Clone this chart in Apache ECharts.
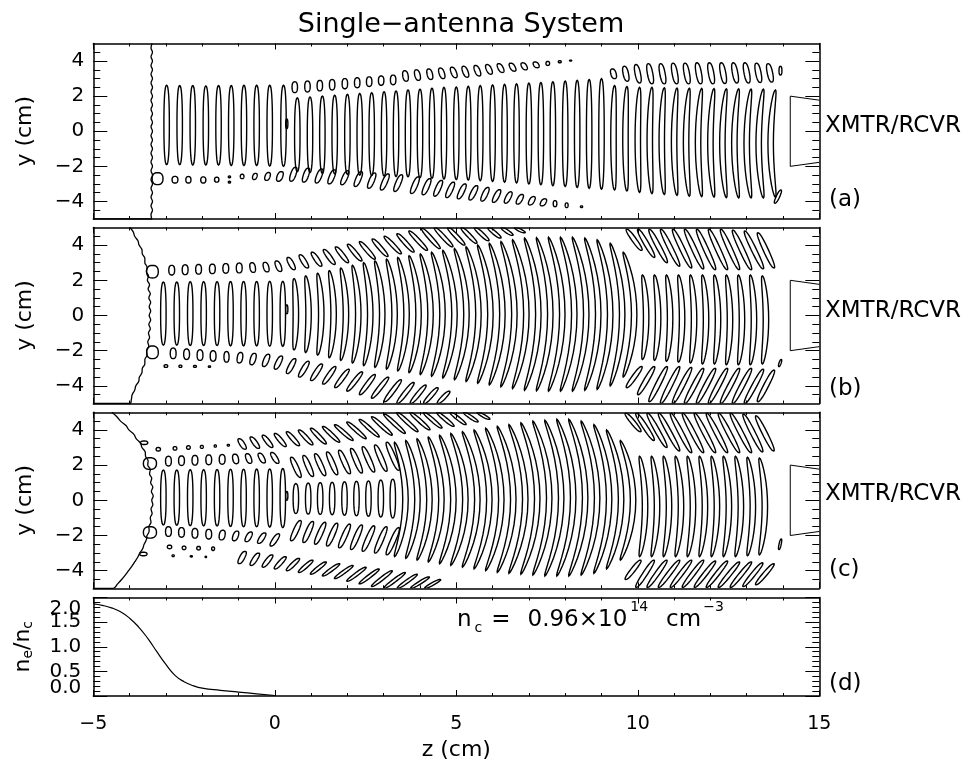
<!DOCTYPE html>
<html>
<head>
<meta charset="utf-8">
<script src="https://cdn.jsdelivr.net/npm/echarts@6/dist/echarts.min.js"></script>
<style>
html,body{margin:0;padding:0;background:#fff}
#chart{width:980px;height:773px}
</style>
</head>
<body>
<div id="chart"></div>
<script>
// ---- axis ticks -------------------------------------------------------
const yMajor = [-4, -2, 0, 2, 4];
const yMinor = [-4.5, -3.5, -3, -2.5, -1.5, -1, -0.5, 0.5, 1, 1.5, 2.5, 3, 3.5, 4.5];
const dInnerLabels = [0.5, 1, 1.5];
const dEndLabels = [0, 2];

// ---- density profile (panel d) ---------------------------------------
const dZ  = [-5, -4.75, -4.5, -4.25, -4, -3.75, -3.5, -3.25, -3, -2.75, -2.5, -2.25, -2, -1.5, -1, -0.5, 0];
const dNe = [1.87, 1.84, 1.79, 1.71, 1.58, 1.4, 1.17, 0.9, 0.64, 0.42, 0.29, 0.21, 0.16, 0.115, 0.08, 0.045, 0.01];

// ---- antenna horn outline (z, y) --------------------------------------
const hornZ = [15, 14.2, 14.2, 15];
const hornY = [1.77, 2.0, -2.0, -1.77];

// ---- cutoff layer contours (z, y) -------------------------------------
const aWall = [[-3.38,5],[-3.41,4.75],[-3.37,4.5],[-3.41,4.25],[-3.37,4],[-3.41,3.75],[-3.37,3.5],[-3.41,3.25],[-3.37,3],[-3.41,2.75],[-3.37,2.5],[-3.41,2.25],[-3.37,2],[-3.41,1.75],[-3.37,1.5],[-3.41,1.25],[-3.37,1],[-3.41,0.75],[-3.37,0.5],[-3.41,0.25],[-3.37,0],[-3.41,-0.25],[-3.37,-0.5],[-3.41,-0.75],[-3.37,-1],[-3.41,-1.25],[-3.37,-1.5],[-3.41,-1.75],[-3.37,-2],[-3.41,-2.25],[-3.37,-2.5],[-3.41,-2.75],[-3.37,-3],[-3.41,-3.25],[-3.37,-3.5],[-3.41,-3.75],[-3.37,-4],[-3.41,-4.25],[-3.37,-4.5],[-3.41,-4.75],[-3.39,-5],[-5,-5]];
const bWall = [[-3.99,5],[-3.9,4.75],[-3.86,4.5],[-3.77,4.25],[-3.74,4],[-3.66,3.75],[-3.65,3.5],[-3.58,3.25],[-3.58,3],[-3.52,2.75],[-3.54,2.5],[-3.48,2.25],[-3.51,2],[-3.45,1.75],[-3.49,1.5],[-3.43,1.25],[-3.47,1],[-3.42,0.75],[-3.46,0.5],[-3.42,0.25],[-3.46,0],[-3.42,-0.25],[-3.47,-0.5],[-3.43,-0.75],[-3.48,-1],[-3.45,-1.25],[-3.5,-1.5],[-3.47,-1.75],[-3.53,-2],[-3.52,-2.25],[-3.58,-2.5],[-3.58,-2.75],[-3.65,-3],[-3.66,-3.25],[-3.73,-3.5],[-3.75,-3.75],[-3.83,-4],[-3.86,-4.25],[-3.93,-4.5],[-3.95,-4.75],[-3.99,-5],[-5,-5]];
const cWall = [[-4.49,5],[-4.35,4.75],[-4.25,4.5],[-4.1,4.25],[-4.02,4],[-3.88,3.75],[-3.82,3.5],[-3.7,3.25],[-3.66,3],[-3.57,2.75],[-3.56,2.5],[-3.49,2.25],[-3.5,2],[-3.43,1.75],[-3.45,1.5],[-3.39,1.25],[-3.42,1],[-3.36,0.75],[-3.4,0.5],[-3.35,0.25],[-3.39,0],[-3.36,-0.25],[-3.41,-0.5],[-3.38,-0.75],[-3.43,-1],[-3.41,-1.25],[-3.47,-1.5],[-3.46,-1.75],[-3.52,-2],[-3.54,-2.25],[-3.6,-2.5],[-3.64,-2.75],[-3.72,-3],[-3.78,-3.25],[-3.86,-3.5],[-3.94,-3.75],[-4.03,-4],[-4.12,-4.25],[-4.22,-4.5],[-4.33,-4.75],[-4.45,-5],[-5,-5]];

// ---- field contour loops --------------------------------------------
// each loop: [z at mid-height, y top, y bottom, z shift of top end, z shift of bottom end, half width]
const aLoops = [
  // central band
  [-2.98,2.62,-1.9],[-2.62,2.6,-1.9],[-2.26,2.6,-1.92],[-1.9,2.58,-1.92],[-1.55,2.6,-1.92],[-1.2,2.6,-1.95],[-0.85,2.62,-1.95],[-0.5,2.62,-1.95],[-0.14,2.62,-1.98],[0.24,2.62,-2.0],
  [0.62,1.9,-2.3],[0.97,1.95,-2.35],[1.31,2.0,-2.4],[1.65,2.05,-2.42],[2.0,2.1,-2.45],[2.34,2.15,-2.5],[2.67,2.2,-2.52],[3.01,2.25,-2.55],[3.34,2.3,-2.58],
  [3.67,2.35,-2.6],[4.0,2.4,-2.64],[4.33,2.45,-2.68],[4.66,2.5,-2.72],[5.0,2.52,-2.75],[5.33,2.56,-2.78],[5.66,2.6,-2.82],[6.0,2.64,-2.86],[6.33,2.67,-2.9],[6.66,2.7,-2.95],[7.0,2.74,-3.0],[7.33,2.78,-3.05],[7.66,2.82,-3.1],[8.0,2.86,-3.15],[8.33,2.9,-3.2],[8.66,2.95,-3.25],[9.0,3.0,-3.3],
  [9.33,2.6,-3.35,0.03,0.03],[9.66,2.55,-3.4,0.04,0.04],[10.0,2.5,-3.48,0.05,0.05],[10.33,2.5,-3.55,0.06,0.06],[10.66,2.48,-3.6,0.07,0.07],[11.0,2.46,-3.65,0.08,0.08],[11.33,2.45,-3.7,0.09,0.09],[11.66,2.44,-3.72,0.1,0.1],[12.0,2.43,-3.75,0.1,0.1],[12.33,2.42,-3.78,0.11,0.11],[12.66,2.42,-3.8,0.12,0.12],[13.0,2.4,-3.8,0.12,0.12],[13.33,2.4,-3.8,0.13,0.13],[13.66,2.35,-3.75,0.13,0.13],
  // upper side lobe
  [0.55,2.82,2.2],[0.9,2.86,2.24],[1.24,2.9,2.3],[1.58,2.95,2.35],[1.93,3.0,2.42],[2.27,3.05,2.48],[2.6,3.1,2.55],[2.93,3.15,2.62],[3.26,3.2,2.65],[3.6,3.45,2.85,-0.02,0.02],[3.93,3.5,2.9,-0.03,0.03],[4.27,3.55,2.95,-0.03,0.03],[4.6,3.6,3.0,-0.04,0.04],[4.93,3.65,3.05,-0.05,0.05],[5.25,3.7,3.08,-0.05,0.05],[5.58,3.75,3.15,-0.05,0.05],[5.9,3.8,3.25,-0.05,0.05],[6.22,3.85,3.35,-0.05,0.05],[6.55,3.88,3.42,-0.05,0.05],[6.87,3.9,3.5,-0.04,0.04],[7.2,3.95,3.62,-0.03,0.03],[7.52,3.98,3.75,0,0,0.05],[7.85,4.02,3.9,0,0,0.04],[8.15,4.05,4.0,0,0,0.03],
  [9.33,3.55,3.0,-0.03,0.03],[9.67,3.7,2.85,-0.04,0.04],[10.0,3.8,2.75,-0.05,0.05],[10.34,3.85,2.7,-0.05,0.05],[10.68,3.85,2.7,-0.05,0.05],[11.02,3.88,2.7,-0.05,0.05],[11.35,3.88,2.7,-0.05,0.05],[11.68,3.9,2.7,-0.05,0.05],[12.02,3.9,2.7,-0.05,0.05],[12.35,3.9,2.72,-0.05,0.05],[12.68,3.9,2.75,-0.05,0.05],[13.0,3.9,2.75,-0.05,0.05],[13.32,3.88,2.78,-0.05,0.05],[13.64,3.85,2.8,-0.05,0.05],[13.93,3.7,3.2,0,0,0.04],
  // lower side lobe
  [-2.75,-2.57,-2.95,0,0,0.08],[-2.38,-2.58,-2.95,0,0,0.07],[-1.97,-2.6,-2.95,0,0,0.07],[-1.6,-2.62,-2.9,0,0,0.06],[-1.25,-2.55,-2.65,0,0,0.03],[-1.25,-2.85,-2.95,0,0,0.03],[-0.9,-2.45,-2.7,0,0,0.05],[-0.55,-2.4,-2.75,0.02,-0.02,0.06],[-0.2,-2.35,-2.8,0.03,-0.03,0.07],[0.14,-2.3,-2.85,0.04,-0.04,0.08],
  [0.51,-2.05,-2.85,0.06,-0.06],[0.86,-2.1,-2.9,0.06,-0.06],[1.22,-2.15,-2.95,0.07,-0.07],[1.57,-2.2,-3.0,0.07,-0.07],[1.93,-2.25,-3.05,0.08,-0.08],[2.3,-2.3,-3.15,0.08,-0.08],[2.67,-2.38,-3.25,0.08,-0.08],[3.03,-2.43,-3.35,0.09,-0.09],[3.4,-2.48,-3.43,0.09,-0.09],
  [3.86,-2.6,-3.55,0.09,-0.09],[4.18,-2.7,-3.62,0.09,-0.09],[4.5,-2.8,-3.7,0.09,-0.09],[4.83,-2.9,-3.78,0.09,-0.09],[5.15,-3.0,-3.85,0.09,-0.09],[5.47,-3.1,-3.92,0.09,-0.09],[5.79,-3.2,-3.98,0.08,-0.08],[6.11,-3.33,-4.05,0.08,-0.08],[6.43,-3.45,-4.1,0.07,-0.07],[6.75,-3.6,-4.15,0.06,-0.06],[7.08,-3.72,-4.2,0.05,-0.05],[7.4,-3.85,-4.25,0.04,-0.04],[7.72,-3.95,-4.3,0,0,0.05],[8.04,-4.08,-4.35,0,0,0.04],[8.45,-4.25,-4.35,0,0,0.03],
  // near the cutoff, small fragments, horn edge
  [-3.23,-2.36,-3.04,0,0,0.15],[0.33,0.7,0.15,0,0,0.03],[13.86,-3.35,-4.1,0.08,-0.08,0.05]
];

const bLoops = [
  [-3.07,1.9,-1.68],[-2.7,1.9,-1.68],[-2.33,1.92,-1.7],[-1.96,1.92,-1.7],[-1.59,1.92,-1.7],[-1.22,1.93,-1.72],[-0.86,1.93,-1.72],[-0.5,1.93,-1.72],[-0.14,1.94,-1.74],[0.22,1.94,-1.75],
  [0.58,2.1,-1.95,-0.05,-0.05],[0.93,2.25,-2.1,-0.08,-0.08],[1.28,2.4,-2.25,-0.1,-0.1],[1.62,2.55,-2.4,-0.12,-0.12],[1.96,2.7,-2.55,-0.14,-0.14],[2.3,2.85,-2.7,-0.16,-0.16],[2.63,3.0,-2.85,-0.18,-0.18],[2.96,3.1,-2.95,-0.2,-0.2],[3.3,3.2,-3.05,-0.22,-0.22],[3.63,3.3,-3.15,-0.24,-0.24],[3.96,3.4,-3.25,-0.26,-0.26],[4.29,3.5,-3.35,-0.28,-0.28],[4.62,3.6,-3.45,-0.3,-0.3],[4.95,3.7,-3.55,-0.32,-0.32],[5.28,3.8,-3.65,-0.33,-0.33],[5.61,3.9,-3.75,-0.34,-0.34],[5.94,4.0,-3.85,-0.35,-0.35],[6.27,4.1,-3.95,-0.36,-0.36],[6.6,4.2,-4.05,-0.37,-0.37],[6.93,4.3,-4.15,-0.38,-0.38],[7.26,4.4,-4.25,-0.38,-0.38],[7.59,4.42,-4.28,-0.38,-0.38],[7.92,4.45,-4.3,-0.38,-0.38],[8.25,4.45,-4.3,-0.38,-0.38],[8.58,4.45,-4.3,-0.38,-0.38],[8.91,4.4,-4.25,-0.37,-0.37],[9.24,4.3,-4.2,-0.36,-0.36],[9.57,4.1,-4.0,-0.33,-0.33],[9.9,3.6,-3.5,-0.3,-0.3],
  [10.23,2.3,-2.5,-0.1,-0.1],[10.56,2.3,-2.55,-0.1,-0.1],[10.89,2.3,-2.6,-0.1,-0.1],[11.22,2.3,-2.65,-0.1,-0.1],[11.55,2.3,-2.7,-0.1,-0.1],[11.88,2.3,-2.75,-0.1,-0.1],[12.21,2.3,-2.75,-0.1,-0.1],[12.54,2.3,-2.8,-0.1,-0.1],[12.87,2.3,-2.8,-0.1,-0.1],[13.2,2.3,-2.8,-0.1,-0.1],[13.53,2.25,-2.75,-0.1,-0.1],
  [-2.84,2.85,2.3,0,0,0.08],[-2.47,2.88,2.32,0,0,0.08],[-2.1,2.9,2.35,0,0,0.08],[-1.72,2.92,2.38,0,0,0.08],[-1.35,2.95,2.4,0,0,0.08],[-0.98,2.98,2.42,0,0,0.08],[-0.61,3.0,2.45,-0.02,0.02],[-0.24,3.02,2.48,-0.03,0.03],[0.1,3.1,2.5,-0.05,0.05],[0.45,3.3,2.6,-0.08,0.08],[0.8,3.45,2.7,-0.1,0.1],[1.15,3.6,2.8,-0.12,0.12],[1.5,3.75,2.9,-0.14,0.14],[1.85,3.9,3.0,-0.16,0.16],[2.2,4.05,3.1,-0.18,0.18],[2.55,4.2,3.2,-0.2,0.2],[2.9,4.35,3.35,-0.2,0.2],[3.25,4.5,3.5,-0.22,0.22],[3.6,4.65,3.6,-0.22,0.22],[3.95,4.8,3.7,-0.24,0.24],[4.3,4.95,3.8,-0.24,0.24],[4.65,5.0,3.9,-0.24,0.24],[5.0,5.0,4.0,-0.22,0.22],[5.35,5.0,4.1,-0.2,0.2],[5.7,5.0,4.25,-0.18,0.18],[6.05,5.0,4.4,-0.16,0.16],[6.4,5.0,4.55,-0.14,0.14],[6.75,5.0,4.7,-0.12,0.12],
  [9.9,4.9,3.7,-0.2,0.2],[10.23,4.9,3.3,-0.22,0.22],[10.56,4.9,3.0,-0.24,0.24],[10.89,4.9,2.8,-0.25,0.25],[11.22,4.9,2.7,-0.25,0.25],[11.55,4.9,2.65,-0.25,0.25],[11.88,4.9,2.6,-0.25,0.25],[12.21,4.9,2.6,-0.25,0.25],[12.54,4.9,2.6,-0.25,0.25],[12.87,4.85,2.6,-0.25,0.25],[13.2,4.8,2.65,-0.25,0.25],[13.53,4.7,2.7,-0.22,0.22],
  [-2.8,-1.85,-2.45,0,0,0.08],[-2.43,-1.9,-2.5,0,0,0.08],[-2.06,-1.95,-2.55,0,0,0.08],[-1.7,-2.0,-2.6,0,0,0.08],[-1.33,-2.05,-2.65,0,0,0.07],[-0.96,-2.1,-2.7,0.02,-0.02],[-0.6,-2.15,-2.8,0.04,-0.04],[-0.24,-2.2,-2.9,0.06,-0.06],[0.1,-2.3,-3.05,0.08,-0.08],[0.45,-2.45,-3.3,0.1,-0.1],[0.8,-2.6,-3.5,0.12,-0.12],[1.15,-2.75,-3.7,0.14,-0.14],[1.5,-2.9,-3.9,0.16,-0.16],[1.85,-3.05,-4.1,0.18,-0.18],[2.2,-3.2,-4.3,0.2,-0.2],[2.55,-3.35,-4.5,0.2,-0.2],[2.9,-3.5,-4.7,0.22,-0.22],[3.25,-3.65,-4.9,0.22,-0.22],[3.6,-3.8,-5.0,0.22,-0.22],[3.95,-3.95,-5.0,0.2,-0.2],[4.3,-4.1,-5.0,0.18,-0.18],[4.65,-4.3,-5.0,0.15,-0.15],
  [-3.0,-2.8,-2.95,0,0,0.05],[-2.6,-2.82,-2.95,0,0,0.04],[-2.2,-2.84,-2.95,0,0,0.04],[-1.8,-2.86,-2.95,0,0,0.03],
  [9.9,-2.9,-4.1,0.2,-0.2],[10.23,-2.9,-4.5,0.22,-0.22],[10.56,-2.9,-4.9,0.24,-0.24],[10.89,-2.9,-5.0,0.25,-0.25],[11.22,-2.95,-5.0,0.25,-0.25],[11.55,-3.0,-5.0,0.25,-0.25],[11.88,-3.0,-5.0,0.25,-0.25],[12.21,-3.0,-5.0,0.25,-0.25],[12.54,-3.0,-5.0,0.25,-0.25],[12.87,-3.0,-5.0,0.25,-0.25],[13.2,-3.05,-5.0,0.25,-0.25],[13.53,-3.1,-4.9,0.22,-0.22],
  [-3.37,2.85,2.13,0,0,0.16],[-3.37,-1.73,-2.45,0,0,0.16],[0.33,0.6,0.1,0,0,0.03],[13.92,-2.5,-2.9,0.03,-0.03,0.03]
];

const cLoops = [
  [-3.07,1.72,-1.4],[-2.7,1.72,-1.42],[-2.33,1.74,-1.44],[-1.96,1.74,-1.45],[-1.59,1.75,-1.46],[-1.22,1.76,-1.48],[-0.86,1.76,-1.5],[-0.5,1.77,-1.5],[-0.14,1.78,-1.52],[0.22,1.8,-1.55],
  [0.58,0.95,-0.75],[0.92,0.98,-0.78],[1.25,1.0,-0.8],[1.58,1.02,-0.82],[1.92,1.05,-0.85],[2.25,1.08,-0.88],[2.58,1.1,-0.9],[2.92,1.15,-0.95],[3.25,1.2,-1.0],
  [3.6,3.3,-3.2,-0.3,-0.3],[3.93,3.4,-3.3,-0.32,-0.32],[4.26,3.5,-3.4,-0.34,-0.34],[4.59,3.6,-3.5,-0.36,-0.36],[4.92,3.7,-3.6,-0.38,-0.38],[5.25,3.8,-3.7,-0.4,-0.4],[5.58,3.9,-3.8,-0.41,-0.41],[5.91,4.0,-3.9,-0.42,-0.42],[6.24,4.1,-4.0,-0.43,-0.43],[6.57,4.2,-4.1,-0.44,-0.44],[6.9,4.3,-4.15,-0.45,-0.45],[7.23,4.4,-4.2,-0.45,-0.45],[7.56,4.5,-4.25,-0.45,-0.45],[7.89,4.55,-4.3,-0.45,-0.45],[8.22,4.6,-4.3,-0.45,-0.45],[8.55,4.6,-4.3,-0.45,-0.45],[8.88,4.5,-4.25,-0.44,-0.44],[9.21,4.3,-4.15,-0.42,-0.42],[9.54,4.0,-3.9,-0.4,-0.4],[9.87,3.4,-3.4,-0.35,-0.35],
  [10.2,2.5,-3.2,-0.15,-0.15],[10.53,2.5,-3.2,-0.15,-0.15],[10.86,2.5,-3.2,-0.15,-0.15],[11.19,2.5,-3.2,-0.15,-0.15],[11.52,2.5,-3.2,-0.15,-0.15],[11.85,2.5,-3.2,-0.15,-0.15],[12.18,2.5,-3.2,-0.15,-0.15],[12.51,2.5,-3.2,-0.15,-0.15],[12.84,2.5,-3.2,-0.15,-0.15],[13.17,2.45,-3.15,-0.15,-0.15],[13.5,2.4,-3.1,-0.15,-0.15],
  [-2.93,2.5,1.95,0,0,0.08],[-2.57,2.52,1.98,0,0,0.08],[-2.2,2.55,2.0,0,0,0.08],[-1.82,2.58,2.02,0,0,0.08],[-1.45,2.6,2.05,0,0,0.08],[-1.08,2.62,2.08,-0.02,0.02,0.08],[-0.72,2.65,2.1,-0.04,0.04],[-0.36,2.68,2.12,-0.06,0.06],[0.0,2.72,2.1,-0.08,0.08],
  [0.58,2.45,1.3,-0.12,0.12],[0.92,2.55,1.35,-0.12,0.12],[1.25,2.65,1.4,-0.13,0.13],[1.58,2.75,1.45,-0.13,0.13],[1.92,2.85,1.5,-0.14,0.14],[2.25,2.95,1.55,-0.14,0.14],[2.58,3.05,1.6,-0.15,0.15],[2.92,3.15,1.65,-0.15,0.15],[3.25,3.3,1.7,-0.16,0.16],
  [-3.21,3.0,2.8,0,0,0.06],[-2.75,3.05,2.85,0,0,0.05],[-2.38,3.1,2.9,0,0,0.05],[-2.01,3.12,2.95,0,0,0.04],[-1.64,3.15,3.02,0,0,0.03],[-1.28,3.18,3.08,0,0,0.03],
  [-0.9,3.5,2.9,-0.08,0.08],[-0.55,3.6,2.95,-0.1,0.1],[-0.2,3.7,3.0,-0.12,0.12],[0.15,3.8,3.05,-0.14,0.14],[0.5,3.9,3.1,-0.16,0.16],[0.85,4.0,3.15,-0.18,0.18],[1.2,4.1,3.2,-0.2,0.2],[1.55,4.2,3.3,-0.22,0.22],[1.9,4.3,3.4,-0.24,0.24],[2.25,4.45,3.5,-0.25,0.25],[2.6,4.6,3.6,-0.26,0.26],[2.95,4.75,3.7,-0.27,0.27],[3.3,4.9,3.8,-0.28,0.28],[3.65,5.0,3.9,-0.28,0.28],[4.0,5.0,4.0,-0.26,0.26],[4.35,5.0,4.1,-0.24,0.24],[4.7,5.0,4.2,-0.22,0.22],[5.05,5.0,4.3,-0.2,0.2],[5.4,5.0,4.45,-0.18,0.18],[5.75,5.0,4.6,-0.15,0.15],
  [-2.93,-1.5,-2.05,0,0,0.08],[-2.57,-1.55,-2.1,0,0,0.08],[-2.2,-1.6,-2.15,0,0,0.08],[-1.82,-1.65,-2.2,0,0,0.08],[-1.45,-1.7,-2.25,0.02,-0.02,0.08],[-1.08,-1.75,-2.3,0.04,-0.04],[-0.72,-1.8,-2.35,0.06,-0.06],[-0.36,-1.85,-2.45,0.08,-0.08],[0.0,-1.9,-2.6,0.1,-0.1],
  [0.58,-1.15,-2.3,0.12,-0.12],[0.92,-1.2,-2.4,0.12,-0.12],[1.25,-1.25,-2.5,0.13,-0.13],[1.58,-1.3,-2.6,0.13,-0.13],[1.92,-1.35,-2.7,0.14,-0.14],[2.25,-1.4,-2.8,0.14,-0.14],[2.58,-1.45,-2.9,0.15,-0.15],[2.92,-1.5,-3.0,0.15,-0.15],[3.25,-1.55,-3.1,0.16,-0.16],
  [-2.9,-2.55,-2.75,0,0,0.06],[-2.5,-2.6,-2.8,0,0,0.05],[-2.1,-2.62,-2.82,0,0,0.05],[-1.7,-2.65,-2.85,0,0,0.04],[-2.8,-3.1,-3.2,0,0,0.03],[-2.3,-3.15,-3.22,0,0,0.03],[-1.9,-3.18,-3.25,0,0,0.02],
  [-0.9,-2.9,-3.6,0.08,-0.08],[-0.55,-3.0,-3.7,0.1,-0.1],[-0.2,-3.1,-3.8,0.12,-0.12],[0.15,-3.2,-3.9,0.14,-0.14],[0.5,-3.3,-4.0,0.16,-0.16],[0.85,-3.4,-4.1,0.18,-0.18],[1.2,-3.5,-4.2,0.2,-0.2],[1.55,-3.6,-4.3,0.22,-0.22],[1.9,-3.7,-4.45,0.24,-0.24],[2.25,-3.8,-4.6,0.25,-0.25],[2.6,-3.9,-4.75,0.26,-0.26],[2.95,-4.0,-4.9,0.27,-0.27],[3.3,-4.1,-5.0,0.28,-0.28],[3.65,-4.2,-5.0,0.26,-0.26],[4.0,-4.35,-5.0,0.24,-0.24],[4.35,-4.5,-5.0,0.2,-0.2],
  [9.87,4.95,3.9,-0.2,0.2],[10.2,4.95,3.4,-0.24,0.24],[10.53,4.95,3.0,-0.26,0.26],[10.86,4.95,2.8,-0.28,0.28],[11.19,4.95,2.7,-0.28,0.28],[11.52,4.95,2.7,-0.28,0.28],[11.85,4.95,2.7,-0.28,0.28],[12.18,4.95,2.7,-0.28,0.28],[12.51,4.95,2.7,-0.28,0.28],[12.84,4.95,2.7,-0.28,0.28],[13.17,4.9,2.75,-0.26,0.26],[13.5,4.8,2.8,-0.24,0.24],
  [9.87,-3.4,-4.5,0.2,-0.2],[10.2,-3.4,-4.95,0.24,-0.24],[10.53,-3.4,-4.95,0.26,-0.26],[10.86,-3.4,-4.95,0.28,-0.28],[11.19,-3.4,-4.95,0.28,-0.28],[11.52,-3.4,-4.95,0.28,-0.28],[11.85,-3.45,-4.95,0.28,-0.28],[12.18,-3.45,-4.95,0.28,-0.28],[12.51,-3.5,-4.95,0.28,-0.28],[12.84,-3.5,-4.95,0.28,-0.28],[13.17,-3.55,-4.9,0.26,-0.26],[13.5,-3.6,-4.8,0.24,-0.24],
  [-3.44,2.42,1.76,0,0,0.18],[-3.44,-1.5,-2.15,0,0,0.18],[-3.6,3.37,3.17,0,0,0.1],[-3.62,-2.95,-3.15,0,0,0.1],[0.33,0.5,0.0,0,0,0.03],[13.92,-2.2,-2.8,0.03,-0.03,0.03]
];

// ---- layout --------------------------------------------------------------
const FONT = 'DejaVu Sans';
const grids = [
  { left: 93.3, top: 43.5, width: 726, height: 175.5 },
  { left: 93.3, top: 227.5, width: 726, height: 176 },
  { left: 93.3, top: 412.3, width: 726, height: 176 },
  { left: 93.3, top: 597.5, width: 726, height: 98.5 }
];
const frame = { show: true, onZero: false, lineStyle: { color: '#000', width: 1.5 } };
const fmtMinus = v => (v < 0 ? '\u2212' + Math.abs(v) : String(v));

const xAxes = [], yAxes = [];
grids.forEach((g, i) => {
  const last = i === 3;
  ['bottom', 'top'].forEach(pos => {
    xAxes.push({
      type: 'value', gridIndex: i, position: pos, min: -5, max: 15, interval: 5,
      axisLine: frame,
      axisTick: { show: true, inside: true, length: 6, lineStyle: { color: '#000', width: 1 } },
      minorTick: { show: true, splitNumber: 5, length: 3, lineStyle: { color: '#000', width: 1 } },
      axisLabel: { show: last && pos === 'bottom', color: '#000', fontFamily: FONT, fontSize: 19, margin: 19, formatter: fmtMinus },
      splitLine: { show: false }, minorSplitLine: { show: false },
      name: last && pos === 'bottom' ? 'z (cm)' : '', nameLocation: 'middle', nameGap: 43,
      nameTextStyle: { color: '#000', fontFamily: FONT, fontSize: 22 }
    });
  });
});

for (let i = 0; i < 3; i++) {
  ['left', 'right'].forEach(pos => {
    yAxes.push({
      type: 'value', gridIndex: i, position: pos, min: -5, max: 5,
      axisLine: frame,
      axisTick: { show: true, inside: true, length: 14, customValues: yMajor, lineStyle: { color: '#000', width: 1 } },
      axisLabel: { show: pos === 'left', customValues: yMajor, color: '#000', fontFamily: FONT, fontSize: 20, margin: 9, formatter: fmtMinus },
      splitLine: { show: false },
      name: pos === 'left' ? 'y (cm)' : '', nameLocation: 'middle', nameGap: 57, nameRotate: 90,
      nameTextStyle: { color: '#000', fontFamily: FONT, fontSize: 22 }
    });
    yAxes.push({
      type: 'value', gridIndex: i, position: pos, min: -5, max: 5,
      axisLine: { show: false, onZero: false },
      axisTick: { show: true, inside: true, length: 7, customValues: yMinor, lineStyle: { color: '#000', width: 1 } },
      axisLabel: { show: false }, splitLine: { show: false }
    });
  });
}
['left', 'right'].forEach(pos => {
  yAxes.push({
    type: 'value', gridIndex: 3, position: pos, min: 0, max: 2, interval: 0.5,
    axisLine: frame,
    axisTick: { show: true, inside: true, length: 14, lineStyle: { color: '#000', width: 1 } },
    minorTick: { show: true, splitNumber: 5, length: 7, lineStyle: { color: '#000', width: 1 } },
    axisLabel: {
      show: pos === 'left', customValues: dInnerLabels,
      color: '#000', fontFamily: FONT, fontSize: 20, margin: 12,
      formatter: v => v.toFixed(1)
    },
    splitLine: { show: false }, minorSplitLine: { show: false },
    name: pos === 'left' ? '{m|n}{s|e}{m|/n}{s|c}' : '', nameLocation: 'middle', nameGap: 54, nameRotate: 90,
    nameTextStyle: {
      color: '#000', fontFamily: FONT, fontSize: 22,
      rich: {
        m: { fontFamily: FONT, fontSize: 22, color: '#000', lineHeight: 30 },
        s: { fontFamily: FONT, fontSize: 14, color: '#000', lineHeight: 14, verticalAlign: 'bottom', padding: [0, 0, 3, 0] }
      }
    }
  });
});
// end labels of the density axis, pulled inside the frame
yAxes.push({
  type: 'value', gridIndex: 3, position: 'left', min: 0, max: 2,
  axisLine: { show: false, onZero: false }, axisTick: { show: false }, splitLine: { show: false },
  axisLabel: {
    show: true, customValues: dEndLabels, showMinLabel: true, showMaxLabel: true,
    color: '#000', fontFamily: FONT, fontSize: 20, margin: 12,
    formatter: v => (v === 2 ? '{hi|2.0}' : '{lo|0.0}'),
    rich: {
      hi: { fontFamily: FONT, fontSize: 20, color: '#000', padding: [22, 0, 0, 0] },
      lo: { fontFamily: FONT, fontSize: 20, color: '#000', padding: [0, 0, 16, 0] }
    }
  }
});

// ---- series -------------------------------------------------------------
function loopItem(p, api) {
  const z0 = api.value(0), yt = api.value(1), yb = api.value(2);
  const dt = api.value(3), db = api.value(4), w = api.value(5);
  const N = 18, P = 2.4, right = [], left = [];
  for (let i = 0; i <= N; i++) {
    const s = (1 - Math.cos(Math.PI * i / N)) / 2;
    const zc = (z0 + dt) * 2 * (s - 0.5) * (s - 1) - z0 * 4 * s * (s - 1) + (z0 + db) * 2 * s * (s - 0.5);
    const yc = yt + (yb - yt) * s;
    const h = w * Math.pow(Math.max(0, 1 - Math.pow(Math.abs(2 * s - 1), P)), 1 / P);
    right.push(api.coord([zc + h, yc]));
    left.unshift(api.coord([zc - h, yc]));
  }
  return {
    type: 'polygon',
    shape: { points: right.concat(left) },
    style: { fill: 'none', stroke: '#000', lineWidth: 1.4 }
  };
}
const norm = arr => arr.map(b => [b[0], b[1], b[2], b[3] || 0, b[4] || 0, b[5] || 0.075]);

const series = [];
[aLoops, bLoops, cLoops].forEach((loops, i) => {
  series.push({
    type: 'custom', xAxisIndex: 2 * i, yAxisIndex: 4 * i, clip: true,
    data: norm(loops), renderItem: loopItem, silent: true
  });
});
[aWall, bWall, cWall].forEach((wall, i) => {
  series.push({
    type: 'line', xAxisIndex: 2 * i, yAxisIndex: 4 * i, data: wall, symbol: 'none', smooth: 0.4,
    lineStyle: { color: '#000', width: 1.3 }, clip: true, silent: true
  });
  series.push({
    type: 'line', xAxisIndex: 2 * i, yAxisIndex: 4 * i, data: hornZ.map((z, k) => [z, hornY[k]]),
    symbol: 'none', lineStyle: { color: '#000', width: 1 }, clip: false, silent: true
  });
});
series.push({
  type: 'line', xAxisIndex: 6, yAxisIndex: 12, data: dZ.map((z, k) => [z, dNe[k]]),
  symbol: 'none', smooth: 0.5, lineStyle: { color: '#000', width: 1.2 }, silent: true
});

// ---- annotations -------------------------------------------------------
const txt = (text, x, y, size) => ({
  type: 'text', x, y, silent: true,
  style: { text, fill: '#000', font: size + 'px "' + FONT + '"', textVerticalAlign: 'middle', verticalAlign: 'middle' }
});
const tok = (size, extra) => Object.assign({ fontFamily: FONT, fontSize: size, fill: '#000', color: '#000' }, extra);
const graphic = [
  txt('XMTR/RCVR', 825, 126, 23), txt('(a)', 829, 200, 23),
  txt('XMTR/RCVR', 825, 311, 23), txt('(b)', 829, 389, 23),
  txt('XMTR/RCVR', 825, 494, 23), txt('(c)', 829, 570, 23),
  txt('(d)', 829, 684, 23),
  {
    type: 'text', x: 457, y: 620, silent: true,
    style: {
      text: '{m|n}{sb|c}{eq|=}{num|0.96\u00d710}{sp|14}{u|cm}{sp2|\u22123}',
      verticalAlign: 'middle', textVerticalAlign: 'middle',
      rich: {
        m: tok(23, { lineHeight: 40 }),
        sb: tok(14, { lineHeight: 14, verticalAlign: 'bottom', padding: [0, 0, 5, 3] }),
        eq: tok(23, { lineHeight: 40, padding: [0, 0, 0, 9] }),
        num: tok(23, { lineHeight: 40, padding: [0, 0, 0, 17] }),
        sp: tok(14, { lineHeight: 14, verticalAlign: 'top', padding: [0, 0, 0, 3] }),
        u: tok(23, { lineHeight: 40, padding: [0, 0, 0, 18] }),
        sp2: tok(14, { lineHeight: 14, verticalAlign: 'top', padding: [0, 0, 0, 2] })
      }
    }
  }
];

const chart = echarts.init(document.getElementById('chart'), null, { renderer: 'canvas' });
chart.setOption({
  animation: false,
  backgroundColor: '#fff',
  title: {
    text: 'Single\u2212antenna System', left: 456, top: 6, textAlign: 'center',
    textStyle: { color: '#000', fontFamily: FONT, fontSize: 27, fontWeight: 'normal' }
  },
  grid: grids,
  xAxis: xAxes,
  yAxis: yAxes,
  series,
  graphic
});
</script>
</body>
</html>
